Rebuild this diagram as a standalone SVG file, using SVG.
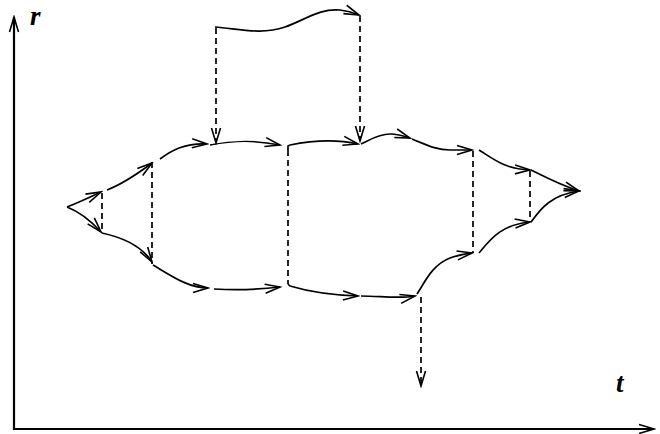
<svg xmlns="http://www.w3.org/2000/svg" width="660" height="434" viewBox="0 0 660 434">
<style>
.c{fill:none;stroke:#000;stroke-width:1.7;marker-end:url(#a)}
.p{fill:none;stroke:#000;stroke-width:1.7}
.d{fill:none;stroke:#000;stroke-width:1.7;stroke-dasharray:6 4}
.da{fill:none;stroke:#000;stroke-width:1.7;stroke-dasharray:6 4;marker-end:url(#a)}
.ax{fill:none;stroke:#000;stroke-width:2.2;marker-end:url(#a)}
.lb{font-family:"Liberation Serif",serif;font-size:27px;font-style:italic;font-weight:bold}
</style>
<defs>
<marker id="a" markerUnits="userSpaceOnUse" markerWidth="18" markerHeight="14" viewBox="0 0 18 14" refX="16" refY="7" orient="auto">
<path d="M1,2.5 L16,7 L1,11.5" fill="none" stroke="#000" stroke-width="1.6" stroke-dasharray="none"/>
</marker>
</defs>
<g id="axes">
<path class="ax" d="M14,430 V17"/>
<path class="ax" d="M13,429 H654"/>
<text class="lb" x="30" y="25">r</text>
<text class="lb" x="616" y="392">t</text>
</g>
<g id="connectors">
<path class="c" d="M215,27 C240,29 262,35 285,27 C305,20 320,8 340,10 C348,11 354,13 359,15"/>
<path class="da" d="M216,28 V143"/>
<path class="da" d="M360,16 V141"/>
<path class="c" d="M67,207 C80,202 90,197 101,192"/>
<path class="c" d="M67,207 C80,212 92,222 101,232"/>
<path class="d" d="M102,193 V232"/>
<path class="c" d="M107,190 C125,183 140,172 152,163"/>
<path class="c" d="M102,233 C125,238 143,248 152,262"/>
<path class="d" d="M152,162 V264"/>
<path class="c" d="M160,159 C172,150 185,143 207,144"/>
<path class="c" d="M153,265 C170,275 188,288 208,288"/>
<path class="c" d="M210,145 C235,140 255,140 280,145"/>
<path class="c" d="M214,289 C235,290 255,290 280,287"/>
<path class="p" d="M288,150 L288,146 L290,145"/>
<path class="c" d="M290,145 C310,141 335,139 358,144"/>
<path class="d" d="M288,150 V284"/>
<path class="c" d="M288,284 L290,286 C310,292 330,295 358,296"/>
<path class="c" d="M361,144 C370,140 378,134 390,134 C398,134 404,136 410,138"/>
<path class="c" d="M361,296 C380,296 400,299 415,296"/>
<path class="c" d="M412,139 C425,144 435,150 450,150 C460,150 466,150 472,150"/>
<path class="c" d="M417,294 C425,282 432,265 450,258 C458,255 466,254 472,253"/>
<path class="d" d="M473,151 V253"/>
<path class="c" d="M479,150 C495,160 505,169 530,170"/>
<path class="c" d="M479,253 C490,240 500,225 530,222"/>
<path class="d" d="M530,171 V222"/>
<path class="c" d="M531,170 C545,177 560,185 579,191"/>
<path class="c" d="M531,222 C540,210 550,195 579,191"/>
<path class="da" d="M421,297 V386"/>
</g>
</svg>
